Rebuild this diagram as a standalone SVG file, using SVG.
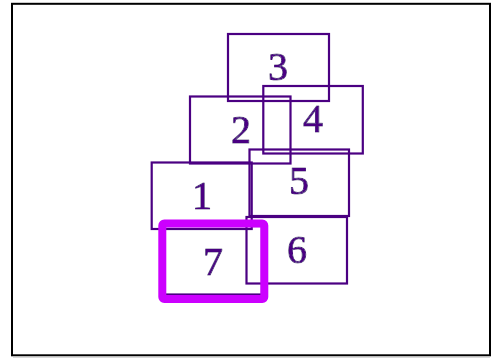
<svg xmlns="http://www.w3.org/2000/svg" width="491" height="359" viewBox="0 0 491 359">
  <defs>
    <filter id="halo" x="-20%" y="-20%" width="140%" height="140%">
      <feMorphology in="SourceAlpha" operator="dilate" radius="1.6" result="d"/>
      <feFlood flood-color="#ffffff" result="w"/>
      <feComposite in="w" in2="d" operator="in" result="h"/>
      <feMerge><feMergeNode in="h"/><feMergeNode in="SourceGraphic"/></feMerge>
    </filter>
  </defs>
  <style>
    .box { fill: none; stroke: #4b0082; stroke-width: 2.2; }
    .lbl { font-family: "Liberation Serif", "Times New Roman", serif; font-size: 40px; fill: #4b0082; stroke: #4b0082; stroke-width: 1; stroke-linejoin: round; text-anchor: middle; filter: url(#halo); }
    .hl { fill: none; stroke: #cc00ff; stroke-width: 8; stroke-linejoin: round; }
  </style>
  <rect x="0" y="0" width="491" height="359" fill="#ffffff"/>
  <rect x="12" y="3.8" width="478" height="351.5" fill="none" stroke="#000000" stroke-width="2"/>
  <line x1="13" y1="357.3" x2="490" y2="357.3" stroke="#d0d0d0" stroke-width="1"/>
  <g id="connectors"></g>
  <g id="node3"><rect class="box" x="228" y="34" width="101" height="67"/></g>
  <g id="node2"><rect class="box" x="190" y="96.5" width="100.5" height="67"/></g>
  <g id="node4"><rect class="box" x="263.3" y="86" width="99.5" height="67.5"/></g>
  <g id="node5"><rect class="box" x="249.5" y="149.5" width="99.5" height="66.5"/></g>
  <g id="node1"><rect class="box" x="151.7" y="162.5" width="100" height="66.5"/></g>
  <g id="node6"><rect class="box" x="246.5" y="217" width="100.5" height="66.5"/></g>
  <g id="node7">
    <rect class="box" x="164" y="226" width="98" height="68.5"/>
    <rect class="hl" x="162.3" y="223.5" width="102" height="75.5" rx="2"/>
  </g>
  <g id="labels">
    <text class="lbl" x="278" y="80">3</text>
    <text class="lbl" x="241" y="143">2</text>
    <text class="lbl" x="313" y="132">4</text>
    <text class="lbl" x="299" y="194">5</text>
    <text class="lbl" x="202" y="209">1</text>
    <text class="lbl" x="297" y="263">6</text>
    <text class="lbl" x="213" y="275">7</text>
  </g>
</svg>
